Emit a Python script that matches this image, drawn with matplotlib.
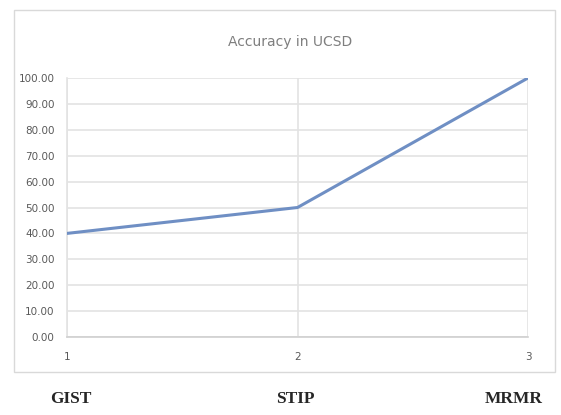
import matplotlib
matplotlib.use("Agg")
import matplotlib.pyplot as plt
from matplotlib.patches import Rectangle

# Data
positions = [1, 2, 3]
methods = ["GIST", "STIP", "MRMR"]
accuracy = [40.0, 50.0, 100.0]
y_ticks = [0, 10, 20, 30, 40, 50, 60, 70, 80, 90, 100]

W, H = 561, 415
fig = plt.figure(figsize=(W / 100, H / 100), dpi=100)
fig.patch.set_facecolor("white")

# chart frame
fig.patches.append(Rectangle((14 / W, 1 - 372 / H), (555 - 14) / W, (372 - 10) / H,
                             transform=fig.transFigure, fill=False,
                             edgecolor="#d9d9d9", linewidth=1.0))

ax = fig.add_axes([67 / W, 1 - 337 / H, (528 - 67) / W, (337 - 78) / H])
ax.plot(positions, accuracy, color="#6f8fc4", linewidth=2.2, solid_capstyle="round", zorder=3)

ax.set_xlim(1, 3)
ax.set_ylim(0, 100)
ax.set_yticks(y_ticks)
ax.set_yticklabels([f"{v:.2f}" for v in y_ticks], fontsize=7.5, color="#595959")
ax.set_xticks(positions)
ax.set_xticklabels([str(p) for p in positions], fontsize=7.5, color="#595959")
ax.tick_params(length=0, pad=11, axis="x")
ax.tick_params(length=0, pad=9, axis="y")

ax.grid(True, color="#e3e3e3", linewidth=1.2)
ax.set_axisbelow(True)
for side in ["top", "right"]:
    ax.spines[side].set_visible(False)
ax.spines["left"].set_color("#e3e3e3")
ax.spines["left"].set_linewidth(1.2)
ax.spines["bottom"].set_color("#d0d0d0")
ax.spines["bottom"].set_linewidth(1.2)

fig.text(290 / W, 1 - 42 / H, "Accuracy in UCSD", ha="center", va="center",
         fontsize=10, color="#7f7f7f")

# method names below the chart
for x, name in zip([71, 295, 514], methods):
    fig.text(x / W, 1 - 399 / H, name, ha="center", va="center",
             fontsize=12.5, family="Liberation Serif", weight="bold", color="#262626")

fig.savefig("out.png", dpi=100)
